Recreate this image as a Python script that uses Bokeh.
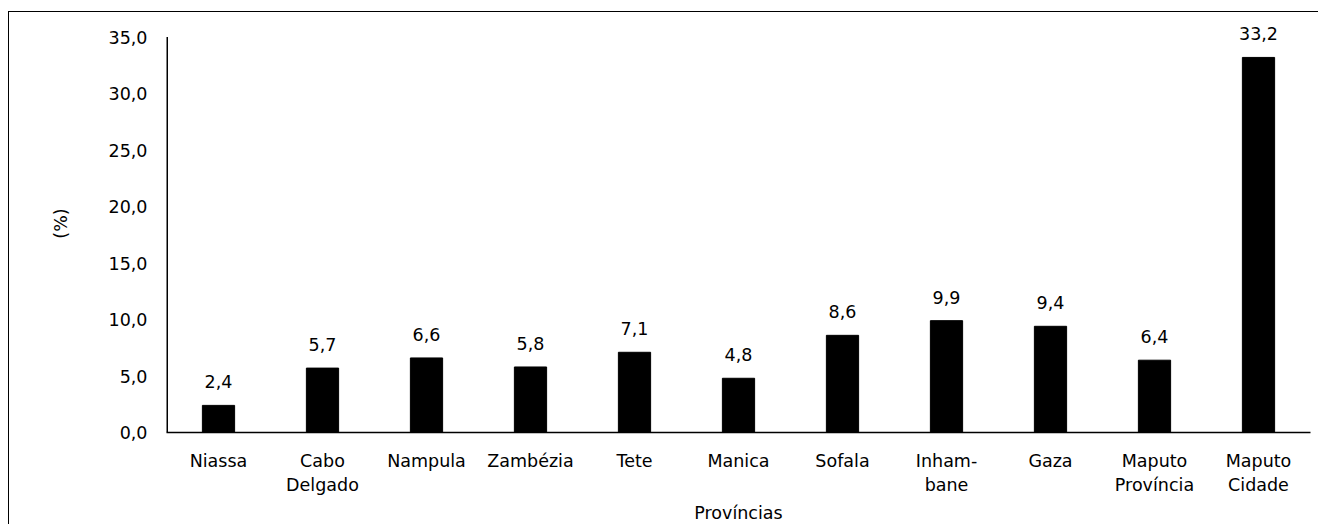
from bokeh.plotting import figure
from bokeh.models import (Range1d, FixedTicker, CustomJSTickFormatter,
                          LabelSet, ColumnDataSource)
from bokeh.core.properties import value
from bokeh.embed import file_html
from bokeh.resources import INLINE

categories = ["Niassa", "Cabo\nDelgado", "Nampula", "Zambézia", "Tete", "Manica",
              "Sofala", "Inham-\nbane", "Gaza", "Maputo\nProvíncia", "Maputo\nCidade"]
values = [2.4, 5.7, 6.6, 5.8, 7.1, 4.8, 8.6, 9.9, 9.4, 6.4, 33.2]
value_labels = ["2,4", "5,7", "6,6", "5,8", "7,1", "4,8", "8,6", "9,9", "9,4", "6,4", "33,2"]
y_ticks = [0, 5, 10, 15, 20, 25, 30, 35]

FONT = "DejaVu Sans"
FS = "17.5px"

xpos = [i + 0.5 for i in range(len(categories))]
source = ColumnDataSource(dict(x=xpos, val=values, lab=value_labels))

p = figure(x_range=Range1d(0, len(categories)), y_range=Range1d(0, 37),
           width=1310, height=513, output_backend="svg", toolbar_location=None,
           min_border_left=157, min_border_right=9, min_border_top=2, min_border_bottom=93)
p.margin = (11, 0, 0, 8)
p.styles = {"border-top": "1px solid black", "border-left": "1px solid black"}

p.vbar(x="x", top="val", width=0.31, source=source, fill_color="black", line_color="black")

# y axis line that stops at the last tick (35)
p.segment(x0=[0], y0=[y_ticks[0]], x1=[0], y1=[y_ticks[-1]], line_color="black", line_width=3)

labels = LabelSet(x="x", y="val", text="lab", source=source, text_align="center",
                  text_baseline="alphabetic", y_offset=17, text_font=value(FONT),
                  text_font_size=FS, text_color="black")
p.add_layout(labels)

p.xgrid.visible = False
p.ygrid.visible = False
p.outline_line_color = None

p.yaxis.ticker = FixedTicker(ticks=y_ticks)
p.yaxis.formatter = CustomJSTickFormatter(code="return tick.toFixed(1).replace('.', ',');")
p.yaxis.major_tick_line_color = None
p.yaxis.minor_tick_line_color = None
p.yaxis.axis_line_color = None
p.yaxis.major_label_standoff = 13
p.yaxis.axis_label = "(%)"
p.yaxis.axis_label_standoff = 35
p.yaxis.axis_label_text_font_style = "normal"

p.xaxis.ticker = FixedTicker(ticks=xpos)
p.xaxis.formatter = CustomJSTickFormatter(args=dict(labels=categories),
                                          code="return labels[Math.floor(tick)];")
p.xaxis.major_tick_line_color = None
p.xaxis.minor_tick_line_color = None
p.xaxis.axis_line_color = "black"
p.xaxis.axis_line_width = 1.5
p.xaxis.major_label_standoff = 12
p.xaxis.axis_label = "Províncias"
p.xaxis.axis_label_standoff = 5
p.xaxis.axis_label_text_font_style = "normal"

for ax in (p.xaxis[0], p.yaxis[0]):
    ax.major_label_text_font = FONT
    ax.major_label_text_font_size = FS
    ax.major_label_text_color = "black"
    ax.axis_label_text_font = FONT
    ax.axis_label_text_font_size = FS
    ax.axis_label_text_color = "black"

open("out.html", "w").write(file_html(p, INLINE))
